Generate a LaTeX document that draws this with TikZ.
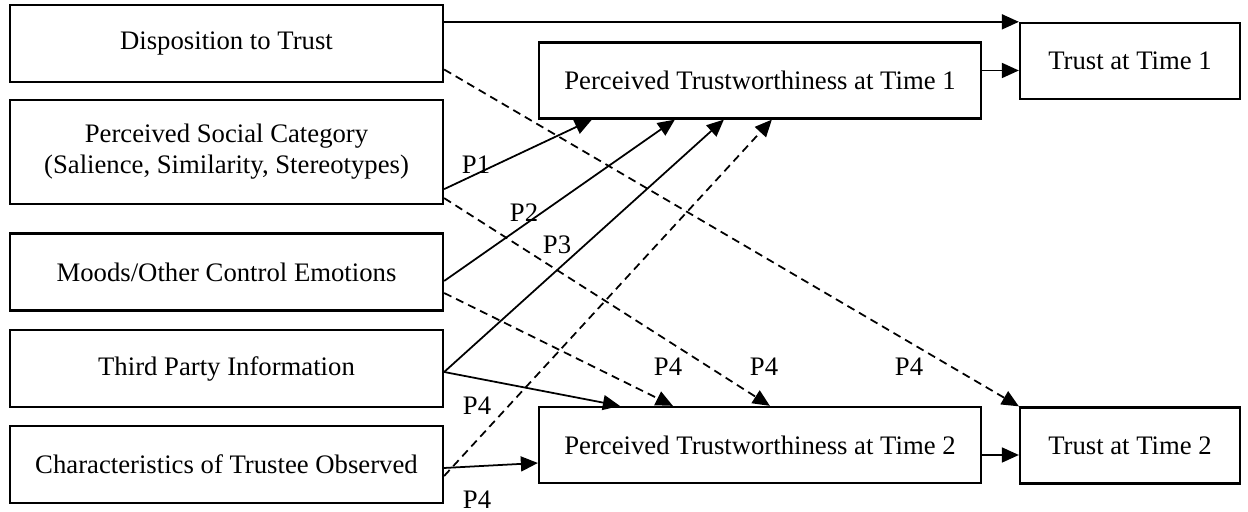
\documentclass[tikz,border=0pt]{standalone}
\usepackage{fontspec}
\setmainfont{Liberation Serif}
\usetikzlibrary{arrows.meta,calc}

\begin{document}
\begin{tikzpicture}[
    factor/.style={rectangle, draw=black, line width=0.65pt, align=center,
                   minimum width=4.33cm, minimum height=0.77cm, inner sep=2pt,
                   font=\fontsize{7.6}{8.8}\selectfont},
    percbox/.style={factor, minimum width=4.42cm, minimum height=0.76cm},
    trustbox/.style={factor, minimum width=2.20cm, minimum height=0.76cm},
    flow/.style={-{Triangle[length=1.7mm, width=1.5mm]}, line width=0.5pt, draw=black},
    flowdash/.style={flow, dash pattern=on 2.3pt off 1.5pt},
    plab/.style={font=\fontsize{7.6}{8.8}\selectfont, inner sep=1pt}
]
\useasboundingbox (0,0) rectangle (12.48,5.12);

% --- antecedents (left column) ---
\node[factor] (disp)   at (2.265, 4.685) {Disposition to Trust};
\node[factor, minimum height=1.04cm] (psc) at (2.265, 3.60)
    {Perceived Social Category\\(Salience, Similarity, Stereotypes)};
\node[factor] (moods)  at (2.265, 2.40)  {Moods/Other Control Emotions};
\node[factor] (third)  at (2.265, 1.435) {Third Party Information};
\node[factor] (charac) at (2.265, 0.475) {Characteristics of Trustee Observed};

% --- perceived trustworthiness and trust ---
\node[percbox]  (pt1)    at (7.60, 4.315) {Perceived Trustworthiness at Time 1};
\node[percbox]  (pt2)    at (7.60, 0.67)  {Perceived Trustworthiness at Time 2};
\node[trustbox] (trust1) at (11.30, 4.51) {Trust at Time 1};
\node[trustbox] (trust2) at (11.30, 0.665) {Trust at Time 2};

% --- direct paths to trust ---
\draw[flow] (disp.east |- trust1.north west) -- (trust1.north west);
\draw[flow] ([yshift=1mm]pt1.east) -- ([yshift=1mm]pt1.east -| trust1.west);
\draw[flow] ([yshift=-1mm]pt2.east) -- ([yshift=-1mm]pt2.east -| trust2.west);
\draw[flowdash] ([yshift=-2.6mm]disp.east) -- (trust2.north west);

% --- paths to perceived trustworthiness ---
\draw[flow]     ([yshift=1.6mm]psc.south east) -- ([xshift=5.4mm]pt1.south west);
\draw[flowdash] ([yshift=0.7mm]psc.south east) -- ([xshift=23.2mm]pt2.north west);
\draw[flow]     ([yshift=-0.9mm]moods.east) -- ([xshift=13.7mm]pt1.south west);
\draw[flowdash] ([yshift=-2.1mm]moods.east) -- ([xshift=13.5mm]pt2.north west);
\draw[flow]     ([yshift=-0.35mm]third.east) -- ([xshift=18.6mm]pt1.south west);
\draw[flow]     ([yshift=-0.35mm]third.east) -- ([xshift=8.2mm]pt2.north west);
\draw[flowdash] ([yshift=-1.15mm]charac.east) -- ([xshift=23.4mm]pt1.south west);
\draw[flow]     ([yshift=-0.35mm]charac.east) -- ([yshift=-1.8mm]pt2.west);

% --- proposition labels ---
\node[plab] (p1)  at (4.76, 3.47) {P1};
\node[plab] (p2)  at (5.24, 2.99) {P2};
\node[plab] (p3)  at (5.57, 2.67) {P3};
\node[plab] (p4a) at (6.68, 1.45) {P4};
\node[plab] (p4b) at (7.64, 1.45) {P4};
\node[plab] (p4c) at (9.09, 1.45) {P4};
\node[plab] (p4d) at (4.77, 1.06) {P4};
\node[plab] (p4e) at (4.77, 0.12) {P4};

\end{tikzpicture}
\end{document}
